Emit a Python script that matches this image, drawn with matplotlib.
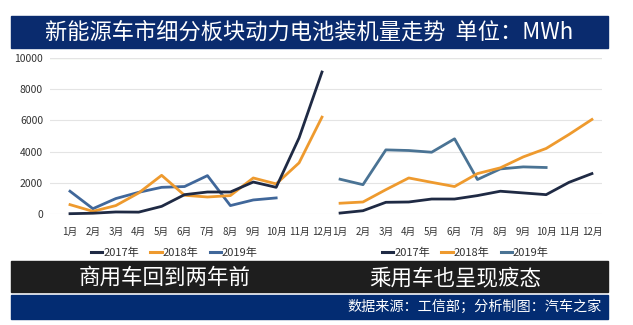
import matplotlib.pyplot as plt
from matplotlib.patches import Rectangle
from matplotlib.lines import Line2D

plt.rcParams['font.family'] = ['Noto Sans CJK SC', 'DejaVu Sans']

months = ['1月', '2月', '3月', '4月', '5月', '6月', '7月', '8月', '9月', '10月', '11月', '12月']
years = ['2017年', '2018年', '2019年']

# 商用车 (MWh)
cv_2017 = [20, 50, 130, 120, 490, 1240, 1410, 1410, 2050, 1710, 4880, 9100]
cv_2018 = [600, 170, 540, 1350, 2480, 1200, 1090, 1180, 2310, 1930, 3280, 6210]
cv_2019 = [1460, 340, 990, 1390, 1710, 1760, 2460, 540, 900, 1030]

# 乘用车 (MWh)
pv_2017 = [60, 210, 750, 770, 960, 960, 1180, 1460, 1350, 1240, 2030, 2590]
pv_2018 = [690, 770, 1560, 2310, 2030, 1760, 2590, 2960, 3660, 4200, 5100, 6060]
pv_2019 = [2230, 1880, 4110, 4070, 3960, 4820, 2210, 2890, 3020, 2980]

yticks = [0, 2000, 4000, 6000, 8000, 10000]

c17 = '#1f2a44'
c18 = '#ee9a2e'
c19_left = '#40679a'
c19_right = '#4a7394'

W, H = 633, 325
fig = plt.figure(figsize=(W / 100, H / 100), dpi=100)


def box(x0, y0, x1, y1, color):
    fig.patches.append(Rectangle((x0 / W, 1 - y1 / H), (x1 - x0) / W, (y1 - y0) / H,
                                 transform=fig.transFigure, color=color, zorder=0))


# header / footer bands
box(11, 16, 608, 48, '#0a2b6e')
fig.text(309.5 / W, 1 - 32 / H, '新能源车市细分板块动力电池装机量走势  单位：MWh',
         color='white', fontsize=16, ha='center', va='center')
box(11, 261, 608, 292, '#1e1e1e')
box(11, 295, 608, 319, '#032c72')
fig.text(165 / W, 1 - 278 / H, '商用车回到两年前', color='white', fontsize=15.5,
         ha='center', va='center')
fig.text(455 / W, 1 - 278 / H, '乘用车也呈现疲态', color='white', fontsize=15.5,
         ha='center', va='center')
fig.text(602 / W, 1 - 307 / H, '数据来源：工信部；分析制图：汽车之家', color='white',
         fontsize=10.2, ha='right', va='center')

y0, y1 = 214, 58
ax1 = fig.add_axes([50 / W, 1 - y0 / H, 280 / W, (y0 - y1) / H])
ax2 = fig.add_axes([330 / W, 1 - y0 / H, 272 / W, (y0 - y1) / H])

x = list(range(1, 13))
panels = [
    (ax1, (cv_2017, cv_2018, cv_2019), c19_left, (0.127, 12.35)),
    (ax2, (pv_2017, pv_2018, pv_2019), c19_right, (0.56, 12.44)),
]
for ax, (s17, s18, s19), c19, xlim in panels:
    ax.set_facecolor('none')
    ax.plot(x[:len(s19)], s19, color=c19, lw=2.0, clip_on=False, zorder=3)
    ax.plot(x, s18, color=c18, lw=2.0, clip_on=False, zorder=4)
    ax.plot(x, s17, color=c17, lw=2.0, clip_on=False, zorder=5)
    ax.set_xlim(*xlim)
    ax.set_ylim(0, 10000)
    ax.set_yticks(yticks)
    ax.set_xticks(x)
    ax.set_xticklabels(months, fontsize=7)
    ax.tick_params(length=0, pad=9, labelcolor='#333333')
    ax.grid(axis='y', color='#e4e4e4', lw=0.8)
    ax.axhline(10000, color='#e6f1dc', lw=1.0, zorder=1)
    for s in ax.spines.values():
        s.set_visible(False)

ax1.tick_params(axis='y', labelsize=7.5, pad=5)
ax2.tick_params(axis='y', labelleft=False)

for cx, c19 in [(174.5, c19_left), (465.5, c19_right)]:
    handles = [Line2D([], [], color=c, lw=2.2) for c in (c17, c18, c19)]
    fig.legend(handles, years, loc='center', bbox_to_anchor=(cx / W, 1 - 253 / H),
               ncol=3, frameon=False, fontsize=8, handlelength=1.0,
               handletextpad=0.1, columnspacing=1.0, labelcolor='#333333')

fig.savefig('out.png', dpi=100)
